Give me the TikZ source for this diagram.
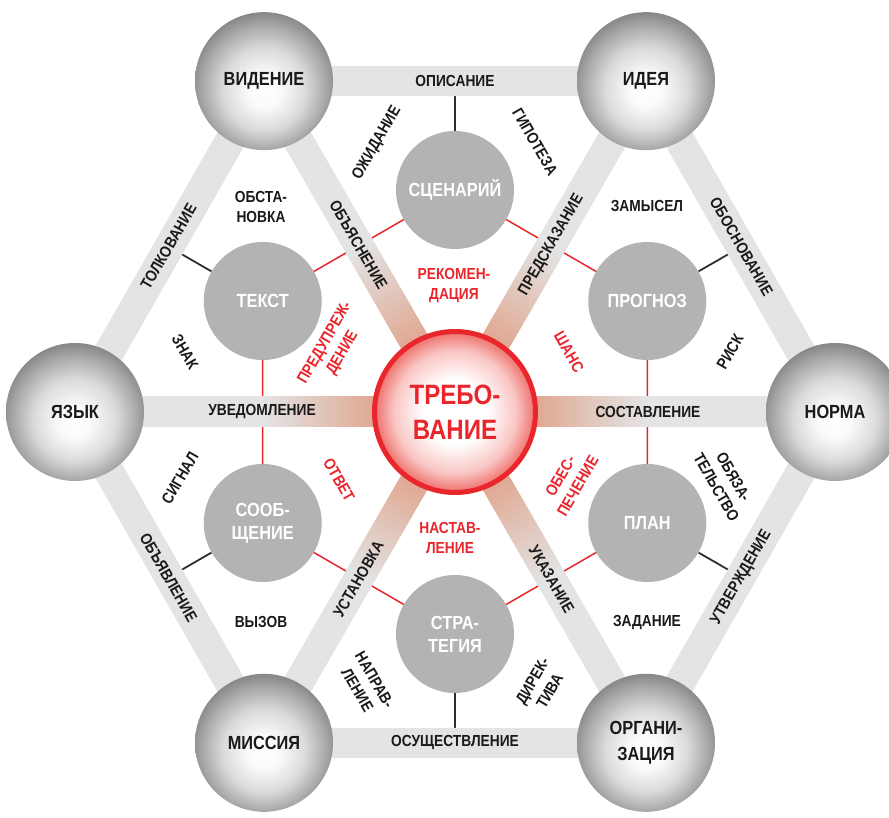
\documentclass[tikz,border=0pt]{standalone}
\usepackage{fontspec}
\setmainfont{Liberation Sans}[FakeStretch=0.86]
\usetikzlibrary{calc}
\definecolor{bandgray}{RGB}{227,228,229}
\definecolor{spokeR}{RGB}{224,170,148}
\definecolor{innergray}{RGB}{179,179,179}
\definecolor{ctrred}{RGB}{232,38,44}
\definecolor{txtred}{RGB}{232,38,44}
\definecolor{txtblack}{RGB}{26,26,26}
\definecolor{linegray}{RGB}{45,45,45}
\definecolor{ballA}{RGB}{250,250,250}
\definecolor{ballB}{RGB}{218,218,219}
\definecolor{ballC}{RGB}{170,171,173}
\definecolor{ballD}{RGB}{118,119,121}
\definecolor{ctrA}{RGB}{249,198,196}
\definecolor{ctrB}{RGB}{238,110,106}
\pgfdeclarehorizontalshading{spoke}{100bp}{color(0bp)=(spokeR); color(36bp)=(spokeR); color(50bp)=(bandgray); color(100bp)=(bandgray)}
\pgfdeclareradialshading{ballsh}{\pgfpoint{0bp}{-4bp}}{color(0bp)=(white); color(6bp)=(ballA); color(15bp)=(ballB); color(22bp)=(ballC); color(29bp)=(ballD); color(50bp)=(ballD)}
\pgfdeclareradialshading{ctrsh}{\pgfpoint{0bp}{0bp}}{color(0bp)=(white); color(10bp)=(white); color(19bp)=(ctrA); color(25bp)=(ctrB); color(50bp)=(ctrB)}
\pgfdeclarelayer{background}
\pgfsetlayers{background,main}
\begin{document}
\begin{tikzpicture}[x=1pt,y=1pt,
  lbl/.style={font=\fontsize{16}{20}\selectfont\bfseries, text=txtblack, align=center, inner sep=0pt},
  rlbl/.style={lbl, text=txtred},
  innernode/.style={circle, fill=innergray, minimum size=118pt, inner sep=0pt, text=white, align=center, font=\fontsize{19}{23}\selectfont\bfseries},
  outernode/.style={circle, shade, shading=ballsh, minimum size=138pt, inner sep=0pt, text=txtblack, align=center, font=\fontsize{19}{26}\selectfont\bfseries},
  ctrnode/.style={circle, shade, shading=ctrsh, draw=ctrred, line width=5pt, minimum size=161pt, inner sep=0pt, text=txtred, align=center, font=\fontsize{28}{35}\selectfont\bfseries},
  band/.style={line width=30pt, draw=bandgray},
  redline/.style={draw=ctrred, line width=1.5pt},
  blackline/.style={draw=linegray, line width=1.8pt}
]
\useasboundingbox (0,0) rectangle (889,817);
\coordinate (C) at (455,405);
% nodes
\node[ctrnode] (treb) at (C) {ТРЕБО-\\ВАНИЕ};
\node[outernode] (vid) at ($(C)+(120:382)$) {ВИДЕНИЕ};
\node[outernode] (idea) at ($(C)+(60:382)$) {ИДЕЯ};
\node[outernode] (norma) at ($(C)+(0:380)$) {НОРМА};
\node[outernode] (org) at ($(C)+(300:382)$) {ОРГАНИ-\\ЗАЦИЯ};
\node[outernode] (miss) at ($(C)+(240:382)$) {МИССИЯ};
\node[outernode] (yaz) at ($(C)+(180:380)$) {ЯЗЫК};
\node[innernode] (scen) at ($(C)+(90:222)$) {СЦЕНАРИЙ};
\node[innernode] (prog) at ($(C)+(30:222)$) {ПРОГНОЗ};
\node[innernode] (plan) at ($(C)+(330:222)$) {ПЛАН};
\node[innernode] (strat) at ($(C)+(270:222)$) {СТРА-\\ТЕГИЯ};
\node[innernode] (soob) at ($(C)+(210:222)$) {СООБ-\\ЩЕНИЕ};
\node[innernode] (tekst) at ($(C)+(150:222)$) {ТЕКСТ};
% edge midpoints
\coordinate (e30) at ($(C)+(30:330.8)$);
\coordinate (e90) at ($(C)+(90:330.8)$);
\coordinate (e150) at ($(C)+(150:330.8)$);
\coordinate (e210) at ($(C)+(210:330.8)$);
\coordinate (e270) at ($(C)+(270:330.8)$);
\coordinate (e330) at ($(C)+(330:330.8)$);
\begin{pgfonlayer}{background}
  \draw[redline] (scen.center) -- (prog.center) -- (plan.center) -- (strat.center) -- (soob.center) -- (tekst.center) -- cycle;
  \draw[blackline] (scen) -- (e90);
  \draw[blackline] (prog) -- (e30);
  \draw[blackline] (plan) -- (e330);
  \draw[blackline] (strat) -- (e270);
  \draw[blackline] (soob) -- (e210);
  \draw[blackline] (tekst) -- (e150);
  \draw[band] (vid.center) -- (idea.center) -- (norma.center) -- (org.center) -- (miss.center) -- (yaz.center) -- cycle;
  \foreach \a in {0,60,120,180,240,300}
    \shade[transform canvas={shift={(455,405)},rotate=\a}, shading=spoke] (0,-15) rectangle (382,15);
\end{pgfonlayer}
% hexagon edge labels
\node[lbl] (lopis) at (e90) {ОПИСАНИЕ};
\node[lbl, rotate=-60] (lobosn) at (e30) {ОБОСНОВАНИЕ};
\node[lbl, rotate=60] (lutv) at (e330) {УТВЕРЖДЕНИЕ};
\node[lbl] (losush) at (e270) {ОСУЩЕСТВЛЕНИЕ};
\node[lbl, rotate=-60] (lobyav) at (e210) {ОБЪЯВЛЕНИЕ};
\node[lbl, rotate=60] (ltolk) at (e150) {ТОЛКОВАНИЕ};
% spoke labels
\node[lbl] (lsost) at ($(C)+(0:193)$) {СОСТАВЛЕНИЕ};
\node[lbl, rotate=60] (lpred) at ($(C)+(60:193)$) {ПРЕДСКАЗАНИЕ};
\node[lbl, rotate=-60] (lobyas) at ($(C)+(120:193)$) {ОБЪЯСНЕНИЕ};
\node[lbl] (luved) at ($(C)+(180:193)$) {УВЕДОМЛЕНИЕ};
\node[lbl, rotate=60] (lustan) at ($(C)+(240:193)$) {УСТАНОВКА};
\node[lbl, rotate=-60] (lukaz) at ($(C)+(300:193)$) {УКАЗАНИЕ};
% free labels
\node[lbl, rotate=60] (lozhid) at (377,674) {ОЖИДАНИЕ};
\node[lbl, rotate=-60] (lgipot) at (535,675) {ГИПОТЕЗА};
\node[rlbl] (lrekom) at (454,531) {РЕКОМЕН-\\ДАЦИЯ};
\node[lbl] (lobsta) at (261,610) {ОБСТА-\\НОВКА};
\node[lbl, rotate=-60] (lznak) at (185,465) {ЗНАК};
\node[rlbl, rotate=60] (lpredupr) at (334,469) {ПРЕДУПРЕЖ-\\ДЕНИЕ};
\node[lbl] (lzamys) at (647,611) {ЗАМЫСЕЛ};
\node[lbl, rotate=60] (lrisk) at (730,465) {РИСК};
\node[rlbl, rotate=-60] (lshans) at (569,465) {ШАНС};
\node[lbl, rotate=60] (lsignal) at (180,339) {СИГНАЛ};
\node[rlbl, rotate=-60] (lotvet) at (339,337) {ОТВЕТ};
\node[lbl] (lvyzov) at (261,195) {ВЫЗОВ};
\node[rlbl, rotate=60] (lobes) at (569,336) {ОБЕС-\\ПЕЧЕНИЕ};
\node[lbl, rotate=-60] (lobyaz) at (725,335) {ОБЯЗА-\\ТЕЛЬСТВО};
\node[lbl] (lzadan) at (647,194) {ЗАДАНИЕ};
\node[rlbl] (lnastav) at (450,279) {НАСТАВ-\\ЛЕНИЕ};
\node[lbl, rotate=-60] (lnaprav) at (366,132) {НАПРАВ-\\ЛЕНИЕ};
\node[lbl, rotate=60] (ldirek) at (541,131) {ДИРЕК-\\ТИВА};
\end{tikzpicture}
\end{document}
